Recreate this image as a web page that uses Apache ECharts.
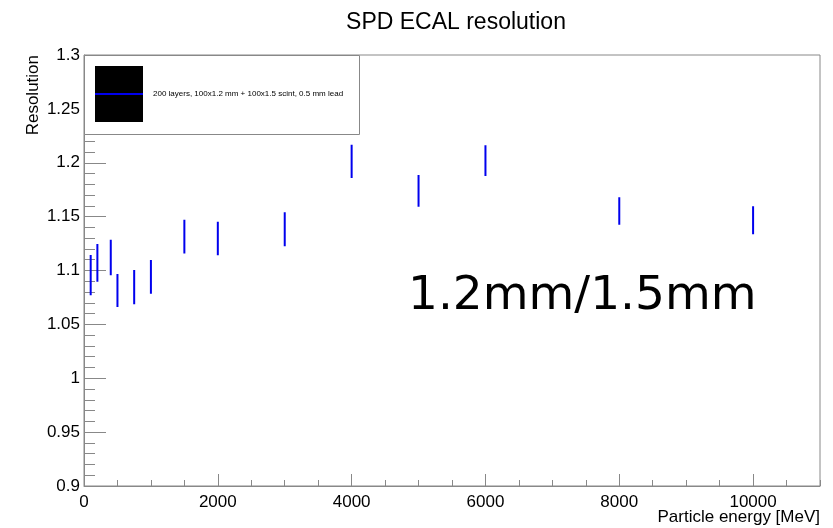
<!DOCTYPE html>
<html>
<head>
<meta charset="utf-8">
<script src="https://cdn.jsdelivr.net/npm/echarts@6/dist/echarts.min.js"></script>
<style>
  html, body { margin: 0; padding: 0; background: #fff; }
  #chart { width: 833px; height: 528px; }
</style>
</head>
<body>
<div id="chart"></div>
<script>
// Beam energies [MeV]
const energies = [100, 200, 400, 500, 750, 1000, 1500, 2000, 3000, 4000, 5000, 6000, 8000, 10000];
// Measured resolution and its uncertainty at each energy
const resolution = [1.0957, 1.1071, 1.1121, 1.0815, 1.0846, 1.0941, 1.1314, 1.1297, 1.1383, 1.2013, 1.1739, 1.2020, 1.1552, 1.1466];
const errors = [0.0178, 0.0166, 0.0156, 0.0144, 0.0150, 0.0147, 0.0148, 0.0147, 0.0148, 0.0145, 0.0138, 0.0133, 0.0118, 0.0121];

const titleText = 'SPD ECAL resolution';
const xTitle = 'Particle energy [MeV]';
const yTitle = 'Resolution';
const legendText = '200 layers, 100x1.2 mm + 100x1.5 scint, 0.5 mm lead';
const noteText = '1.2mm/1.5mm';

const FONT = '"Liberation Sans", Arial, Helvetica, sans-serif';
const AXIS_GRAY = '#888888';
const BAR_BLUE = '#0000ee';

const points = energies.map((e, i) => [e, resolution[i], errors[i]]);

const chart = echarts.init(document.getElementById('chart'), null, { renderer: 'canvas' });

chart.setOption({
  backgroundColor: '#ffffff',
  animation: false,
  title: {
    text: titleText,
    left: 451,
    textAlign: 'center',
    top: 6,
    textStyle: { fontFamily: FONT, fontSize: 23, fontWeight: 'normal', color: '#000' }
  },
  grid: {
    left: 84, right: 13, top: 55, bottom: 42,
    show: true, borderColor: AXIS_GRAY, borderWidth: 1, backgroundColor: 'transparent'
  },
  xAxis: [
    {
      // labelled axis with major ticks every 2000 MeV
      type: 'value', min: 0, max: 11000, interval: 2000, position: 'bottom',
      axisLine: { show: true, lineStyle: { color: AXIS_GRAY, width: 1 } },
      axisTick: { show: true, inside: true, length: 12, lineStyle: { color: AXIS_GRAY } },
      axisLabel: {
        show: true, margin: 8, showMaxLabel: false, fontFamily: FONT, fontSize: 17, color: '#000',
        formatter: v => String(Math.round(v))
      },
      splitLine: { show: false }
    },
    {
      // minor ticks every 500 MeV
      type: 'value', min: 0, max: 11000, interval: 500, position: 'bottom',
      axisLine: { show: false },
      axisTick: { show: true, inside: true, length: 6, lineStyle: { color: AXIS_GRAY } },
      axisLabel: { show: false },
      splitLine: { show: false }
    }
  ],
  yAxis: {
    type: 'value', min: 0.9, max: 1.3, interval: 0.05, position: 'left',
    axisLine: { show: true, lineStyle: { color: AXIS_GRAY, width: 1 } },
    axisTick: { show: true, inside: true, length: 22, lineStyle: { color: AXIS_GRAY } },
    minorTick: { show: true, splitNumber: 5, length: 11, lineStyle: { color: AXIS_GRAY } },
    axisLabel: {
      margin: 4, fontFamily: FONT, fontSize: 17, color: '#000',
      formatter: v => String(+v.toFixed(2))
    },
    splitLine: { show: false }
  },
  series: [{
    type: 'custom',
    name: legendText,
    xAxisIndex: 0,
    data: points,
    renderItem: (params, api) => {
      const x = api.value(0), c = api.value(1), e = api.value(2);
      const top = api.coord([x, c + e]);
      const bot = api.coord([x, c - e]);
      return {
        type: 'polyline',
        shape: { points: [[top[0] - 1, top[1]], [top[0], top[1]], [bot[0], bot[1]], [bot[0] - 1, bot[1]]] },
        style: { stroke: BAR_BLUE, lineWidth: 2, fill: null }
      };
    }
  }],
  graphic: [
    // y-axis title
    {
      type: 'text', x: 33, y: 55, rotation: Math.PI / 2,
      style: { text: yTitle, fontFamily: FONT, fontSize: 17, fill: '#000', align: 'right', verticalAlign: 'middle' }
    },
    // x-axis title
    {
      type: 'text', x: 820, y: 517,
      style: { text: xTitle, fontFamily: FONT, fontSize: 17, fill: '#000', align: 'right', verticalAlign: 'middle' }
    },
    // legend box
    {
      type: 'rect', shape: { x: 84.5, y: 55.5, width: 275, height: 79 },
      style: { fill: '#ffffff', stroke: AXIS_GRAY, lineWidth: 1 }, z: 10
    },
    {
      type: 'rect', shape: { x: 95, y: 66, width: 48, height: 56 },
      style: { fill: '#000000' }, z: 11
    },
    {
      type: 'line', shape: { x1: 95, y1: 94, x2: 143, y2: 94 },
      style: { stroke: BAR_BLUE, lineWidth: 2 }, z: 12
    },
    {
      type: 'text', x: 153, y: 94, z: 12,
      style: { text: legendText, fontFamily: FONT, fontSize: 8, fill: '#000', align: 'left', verticalAlign: 'middle' }
    },
    // configuration note
    {
      type: 'text', x: 408, y: 297,
      style: { text: noteText, fontFamily: '"DejaVu Sans", sans-serif', fontSize: 47, fill: '#000', align: 'left', verticalAlign: 'middle' }
    }
  ]
});
</script>
</body>
</html>
